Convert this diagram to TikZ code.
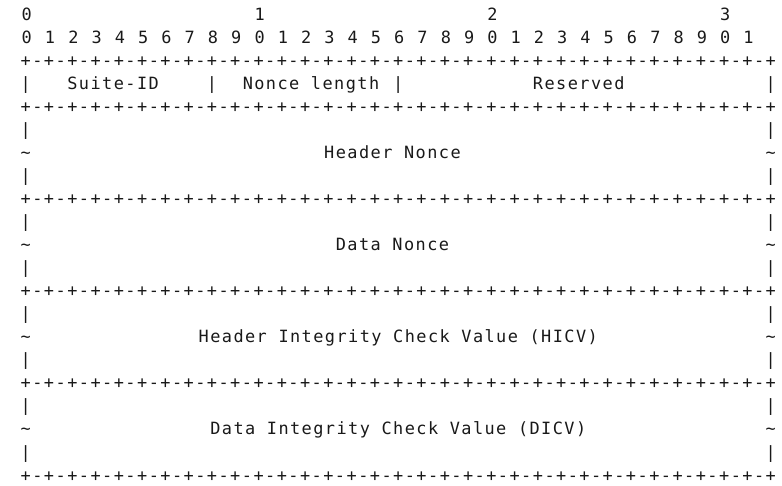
\documentclass[tikz,border=0pt]{standalone}
\usepackage{fontspec}
\newfontfamily\pktfont[LetterSpace=8.5]{DejaVu Sans Mono}
\usepackage{tikz}
\newcommand\colx[1]{25.8+11.64*#1}
\newcommand\rowy[1]{16.4+23.05*#1}

\begin{document}
\begin{tikzpicture}[x=1pt,y=-1pt,
  txt/.style={font=\fontsize{16.9}{20}\pktfont,text=black!90,inner sep=0pt,
    text height=0.73em,text depth=0pt}]
\useasboundingbox (0,0) rectangle (782,485);
% bit numbers
\foreach \t in {0,1,2,3}
  \node[txt] (ten\t) at ({\colx{20*\t+1}},{\rowy{0}}) {\t};
\foreach \i in {0,...,31}{
  \pgfmathtruncatemacro\d{mod(\i,10)}
  \node[txt] (bit\i) at ({\colx{2*\i+1}},{\rowy{1}}) {\d};
}
% separator lines
\foreach \r in {2,4,8,12,16,20}{
  \foreach \c in {0,2,...,64}
    \node[txt] (plus\r-\c) at ({\colx{\c}},{\rowy{\r}}) {+};
  \foreach \c in {1,3,...,63}
    \node[txt] (dash\r-\c) at ({\colx{\c}},{\rowy{\r}}) {-};
}
% side marks
\foreach \c in {0,16,32,64}
  \node[txt] (bar3-\c) at ({\colx{\c}},{\rowy{3}}) {|};
\foreach \r in {5,7,9,11,13,15,17,19}{
  \node[txt] (barl\r) at ({\colx{0}},{\rowy{\r}}) {|};
  \node[txt] (barr\r) at ({\colx{64}},{\rowy{\r}}) {|};
}
\foreach \r in {6,10,14,18}{
  \node[txt] (tildel\r) at ({\colx{0}},{\rowy{\r}}) {\char`\~};
  \node[txt] (tilder\r) at ({\colx{64}},{\rowy{\r}}) {\char`\~};
}
% fields
\node[txt] (suite) at ({\colx{7.5}},{\rowy{3}}) {Suite-ID};
\node[txt] (noncelen) at ({\colx{24.5}},{\rowy{3}}) {Nonce length};
\node[txt] (reserved) at ({\colx{47.5}},{\rowy{3}}) {Reserved};
\node[txt] (hnonce) at ({\colx{31.5}},{\rowy{6}}) {Header Nonce};
\node[txt] (dnonce) at ({\colx{31.5}},{\rowy{10}}) {Data Nonce};
\node[txt] (hicv) at ({\colx{32}},{\rowy{14}}) {Header Integrity Check Value (HICV)};
\node[txt] (dicv) at ({\colx{32}},{\rowy{18}}) {Data Integrity Check Value (DICV)};
\end{tikzpicture}
\end{document}
